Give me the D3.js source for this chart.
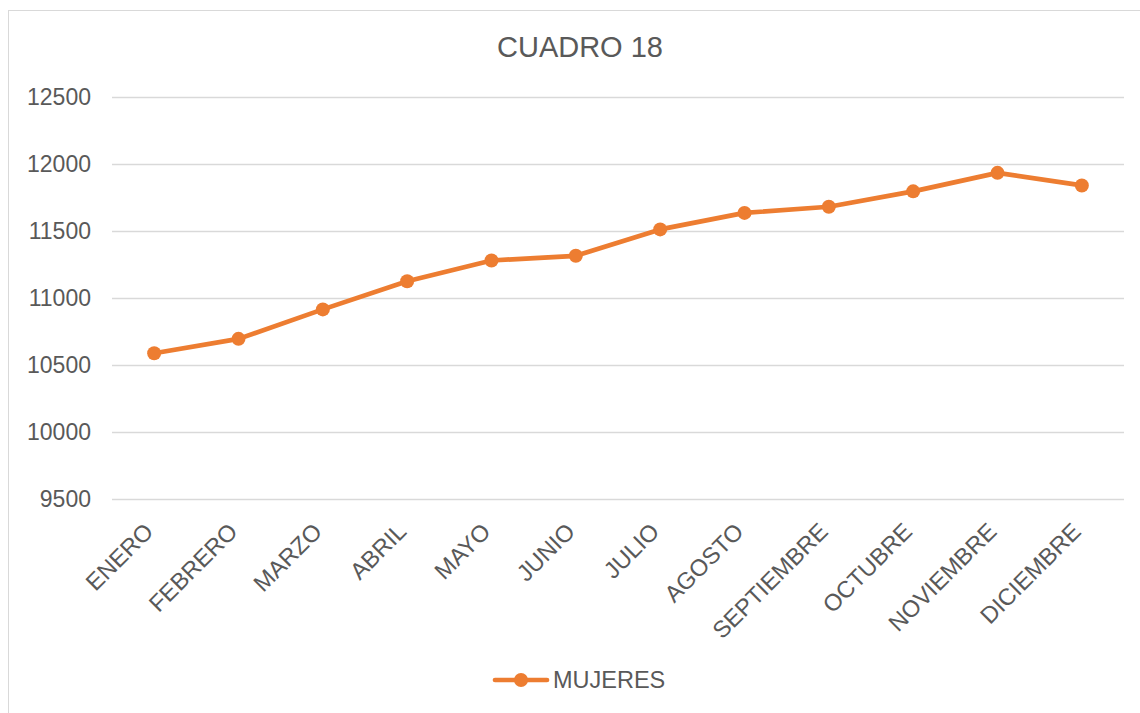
<!DOCTYPE html>
<html>
<head>
<meta charset="utf-8">
<script src="https://cdn.jsdelivr.net/npm/d3@7"></script>
<style>
  body { margin: 0; background: #fff; }
  text { font-family: "Liberation Sans", Arial, sans-serif; fill: #595959; }
</style>
</head>
<body>
<svg id="chart" width="1140" height="713"></svg>
<script>
// data
var meses = ["ENERO", "FEBRERO", "MARZO", "ABRIL", "MAYO", "JUNIO", "JULIO",
             "AGOSTO", "SEPTIEMBRE", "OCTUBRE", "NOVIEMBRE", "DICIEMBRE"];
var mujeres = [10588, 10695, 10915, 11125, 11280, 11315, 11512, 11635, 11681, 11796, 11934, 11840];
var yTicks = [9500, 10000, 10500, 11000, 11500, 12000, 12500];
var titulo = "CUADRO 18";
var serieNombre = "MUJERES";

var naranja = "#ED7D31";
var svg = d3.select("#chart");

// outer frame
svg.append("rect")
    .attr("x", 8.5).attr("y", 10.5)
    .attr("width", 1140).attr("height", 720)
    .attr("fill", "none").attr("stroke", "#d9d9d9").attr("stroke-width", 1);

var plotLeft = 112, plotRight = 1124, plotTop = 97, plotBottom = 499;

var x = d3.scalePoint().domain(meses).range([plotLeft, plotRight]).padding(0.5);
var y = d3.scaleLinear().domain([9500, 12500]).range([plotBottom, plotTop]);

// gridlines + y labels
var yAxis = svg.append("g")
    .attr("transform", "translate(" + plotLeft + ",0)")
    .call(d3.axisLeft(y).tickValues(yTicks).tickSize(-(plotRight - plotLeft)).tickPadding(21).tickFormat(d3.format("d")));
yAxis.select(".domain").remove();
yAxis.selectAll("line").attr("stroke", "#d9d9d9").attr("stroke-width", 1.3);
yAxis.selectAll("text").attr("font-size", "23px").style("font-family", "'Liberation Sans', Arial, sans-serif").attr("fill", "#595959");

// x labels rotated
var xAxis = svg.append("g")
    .attr("transform", "translate(0," + plotBottom + ")")
    .call(d3.axisBottom(x).tickSize(0).tickPadding(0));
xAxis.select(".domain").remove();
xAxis.selectAll("text")
    .attr("font-size", "23.5px")
    .style("font-family", "'Liberation Sans', Arial, sans-serif")
    .attr("fill", "#595959")
    .attr("text-anchor", "end")
    .attr("dy", null)
    .attr("y", 0)
    .attr("transform", "translate(0,34) rotate(-45)");

// line
var line = d3.line()
    .x(function(d, i) { return x(meses[i]); })
    .y(function(d) { return y(d); });

svg.append("path")
    .datum(mujeres)
    .attr("d", line)
    .attr("fill", "none")
    .attr("stroke", naranja)
    .attr("stroke-width", 4.7)
    .attr("stroke-linejoin", "round")
    .attr("stroke-linecap", "round");

svg.selectAll("circle.pt")
    .data(mujeres)
    .enter()
    .append("circle")
    .attr("class", "pt")
    .attr("cx", function(d, i) { return x(meses[i]); })
    .attr("cy", function(d) { return y(d); })
    .attr("r", 7)
    .attr("fill", naranja);

// title
svg.append("text")
    .attr("x", 580).attr("y", 57)
    .attr("text-anchor", "middle")
    .attr("font-size", "29px")
    .text(titulo);

// legend
var lg = svg.append("g").attr("transform", "translate(0,680)");
lg.append("line")
    .attr("x1", 495).attr("x2", 547).attr("y1", 0).attr("y2", 0)
    .attr("stroke", naranja).attr("stroke-width", 4.7).attr("stroke-linecap", "round");
lg.append("circle").attr("cx", 521).attr("cy", 0).attr("r", 7).attr("fill", naranja);
lg.append("text")
    .attr("x", 553).attr("y", 8)
    .attr("font-size", "23.5px")
    .text(serieNombre);
</script>
</body>
</html>
